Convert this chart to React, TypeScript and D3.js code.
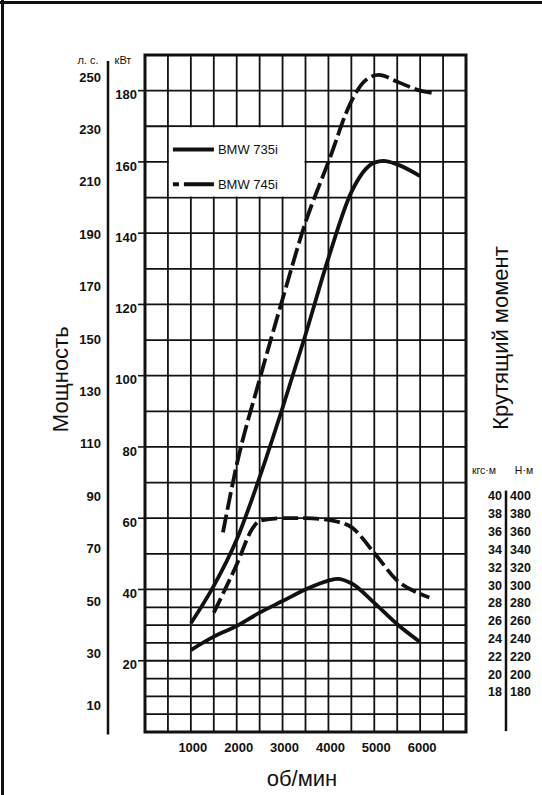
import React from 'react';
import * as d3 from 'd3';

// rpm ticks on the bottom axis
const rpmTicks = [1000, 2000, 3000, 4000, 5000, 6000];
// left scales
const hpTicks = [10, 30, 50, 70, 90, 110, 130, 150, 170, 190, 210, 230, 250];
const kwTicks = [20, 40, 60, 80, 100, 120, 140, 160, 180];
// right (torque) scales
const kgmTicks = [40, 38, 36, 34, 32, 30, 28, 26, 24, 22, 20, 18];
const nmTicks = [400, 380, 360, 340, 320, 300, 280, 260, 240, 220, 200, 180];

// power, kW
const rpm735Power = [1000, 1500, 2000, 2500, 3000, 3500, 4000, 4500, 5000, 5200, 5500, 6000];
const kw735 = [30.5, 41, 54, 71.5, 91, 111.5, 133, 151.5, 159.8, 160.3, 159.3, 156];
const rpm745Power = [1700, 2000, 2500, 3000, 3500, 4000, 4500, 4800, 5100, 5500, 6000, 6250];
const kw745 = [56, 75, 99, 121.5, 143, 160, 177, 182.8, 184.4, 182.5, 180, 179.4];

// torque, kgf·m
const rpm735Torque = [1000, 1500, 2000, 2500, 3000, 3500, 4000, 4200, 4500, 5000, 5500, 6000];
const kgm735 = [22.7, 24.2, 25.4, 26.9, 28.2, 29.5, 30.5, 30.7, 30.2, 28.0, 25.6, 23.6];
const rpm745Torque = [1500, 2000, 2350, 2500, 3000, 3500, 4000, 4200, 4500, 5000, 5500, 6000, 6200];
const kgm745 = [26.9, 32.3, 36.4, 37.2, 37.5, 37.5, 37.3, 37.1, 36.5, 33.6, 30.5, 29.0, 28.6];

const W = 542;
const H = 795;
const INK = '#111';
const FONT = '"Liberation Sans", Arial, sans-serif';

const x = d3.scaleLinear().domain([0, 7000]).range([145, 466]);
const yKw = d3.scaleLinear().domain([0, 190]).range([732, 55]);
const yHp = (hp: number) => yKw(hp * 0.7355);
// 2 kgf·m per half row (5 kW), 18 kgf·m sits at 11.25 kW
const yTq = d3.scaleLinear().domain([18, 40]).range([yKw(11.25), yKw(66.25)]);

// horizontal grid: every 5 kW below 40, every 10 kW above
const gridKw = [...d3.range(5, 40, 5), ...d3.range(40, 190, 10)];
const gridRpm = d3.range(500, 7000, 500);

type Pt = [number, number];
const zip = (a: number[], b: number[]): Pt[] => a.map((v, i) => [v, b[i]]);

const powerLine = d3.line<Pt>().x(d => x(d[0])).y(d => yKw(d[1])).curve(d3.curveMonotoneX);
const torqueLine = d3.line<Pt>().x(d => x(d[0])).y(d => yTq(d[1])).curve(d3.curveMonotoneX);

export default function App() {
  const [x0, x1] = x.range();
  const [yb, yt] = yKw.range();

  // legend box covers 500..3500 rpm, 150..170 kW
  const lgX0 = x(500), lgX1 = x(3500), lgY0 = yKw(170), lgY1 = yKw(150);
  const lgLineX0 = lgX0 + 5, lgLineX1 = lgX0 + 46;
  const lgRow1 = yKw(163.5), lgRow2 = yKw(153.7);

  const tqAxisX = 506;

  return (
    <svg width={W} height={H} style={{ position: 'absolute', left: 0, top: 0, background: '#fff' }}
      fontFamily={FONT}>
      <rect x={0} y={0} width={W} height={H} fill="#fff" />
      {/* page frame */}
      <line x1={0} x2={W} y1={2.5} y2={2.5} stroke={INK} strokeWidth={3} />
      <line x1={2.5} x2={2.5} y1={0} y2={H} stroke={INK} strokeWidth={3} />

      {/* grid */}
      <g stroke={INK} strokeWidth={1.8}>
        {gridKw.map(k => (
          <line key={'h' + k} x1={x0} x2={x1} y1={yKw(k)} y2={yKw(k)} />
        ))}
        {gridRpm.map(r => (
          <line key={'v' + r} x1={x(r)} x2={x(r)} y1={yt} y2={yb} />
        ))}
      </g>
      {/* legend background hides the grid inside */}
      <rect x={lgX0 + 1} y={lgY0 + 1} width={lgX1 - lgX0 - 2} height={lgY1 - lgY0 - 2} fill="#fff" />
      <rect x={x0} y={yt} width={x1 - x0} height={yb - yt} fill="none" stroke={INK} strokeWidth={3} />

      {/* legend */}
      <line x1={lgLineX0} x2={lgLineX1} y1={lgRow1} y2={lgRow1} stroke={INK} strokeWidth={4} />
      <line x1={lgLineX0} x2={lgLineX1} y1={lgRow2} y2={lgRow2} stroke={INK} strokeWidth={4}
        strokeDasharray="6 5 30" />
      <text x={lgLineX1 + 4} y={lgRow1} dy="0.36em" fontSize={13} fill={INK}>BMW 735i</text>
      <text x={lgLineX1 + 4} y={lgRow2} dy="0.36em" fontSize={13} fill={INK}>BMW 745i</text>

      {/* curves */}
      <g fill="none" stroke={INK} strokeWidth={3.8}>
        <path d={powerLine(zip(rpm735Power, kw735)) || ''} />
        <path d={powerLine(zip(rpm745Power, kw745)) || ''} strokeDasharray="18 5" />
        <path d={torqueLine(zip(rpm735Torque, kgm735)) || ''} />
        <path d={torqueLine(zip(rpm745Torque, kgm745)) || ''} strokeDasharray="16 5" />
      </g>

      {/* x axis labels */}
      <g fontSize={13} fontWeight="bold" fill={INK} textAnchor="middle">
        {rpmTicks.map(r => (
          <text key={r} x={x(r) + 2} y={752}>{r}</text>
        ))}
      </g>
      <text x={302} y={786} fontSize={22} fill={INK} textAnchor="middle">об/мин</text>

      {/* kW axis */}
      <g stroke={INK} strokeWidth={1.6}>
        {kwTicks.map(k => (
          <line key={k} x1={x0 - 7} x2={x0} y1={yKw(k)} y2={yKw(k)} />
        ))}
      </g>
      <g fontSize={13} fontWeight="bold" fill={INK} textAnchor="end">
        {kwTicks.map(k => (
          <text key={k} x={x0 - 8} y={yKw(k) + 4} dy="0.36em">{k}</text>
        ))}
      </g>
      <text x={x0 - 22} y={yKw(187.5)} fontSize={11} fill={INK} textAnchor="middle">кВт</text>

      {/* hp axis */}
      <line x1={108} x2={108} y1={yHp(256)} y2={yHp(-1)} stroke={INK} strokeWidth={2.5} />
      <g fontSize={13} fontWeight="bold" fill={INK} textAnchor="end">
        {hpTicks.map(h => (
          <text key={h} x={101} y={yHp(h)} dy="0.36em">{h}</text>
        ))}
      </g>
      <text x={88} y={yKw(187.5)} fontSize={11} fill={INK} textAnchor="middle">л. с.</text>
      <text transform={`translate(68,${yKw(99)}) rotate(-90)`} fontSize={22} fill={INK}
        textAnchor="middle">Мощность</text>

      {/* torque axis */}
      <line x1={tqAxisX} x2={tqAxisX} y1={yTq(40.6)} y2={yTq(13.6)} stroke={INK} strokeWidth={2.5} />
      <g fontSize={12.5} fontWeight="bold" fill={INK}>
        {kgmTicks.map(v => (
          <text key={v} x={tqAxisX - 4} y={yTq(v)} dy="0.36em" textAnchor="end">{v}</text>
        ))}
        {nmTicks.map(v => (
          <text key={v} x={tqAxisX + 4} y={yTq(v / 10)} dy="0.36em">{v}</text>
        ))}
      </g>
      <text x={tqAxisX - 22} y={yTq(42.5)} fontSize={10.5} fill={INK} textAnchor="middle">кгс·м</text>
      <text x={tqAxisX + 18} y={yTq(42.5)} fontSize={10.5} fill={INK} textAnchor="middle">Н·м</text>
      <text transform={`translate(508,338) rotate(-90)`} fontSize={22} fill={INK}
        textAnchor="middle">Крутящий момент</text>
    </svg>
  );
}
